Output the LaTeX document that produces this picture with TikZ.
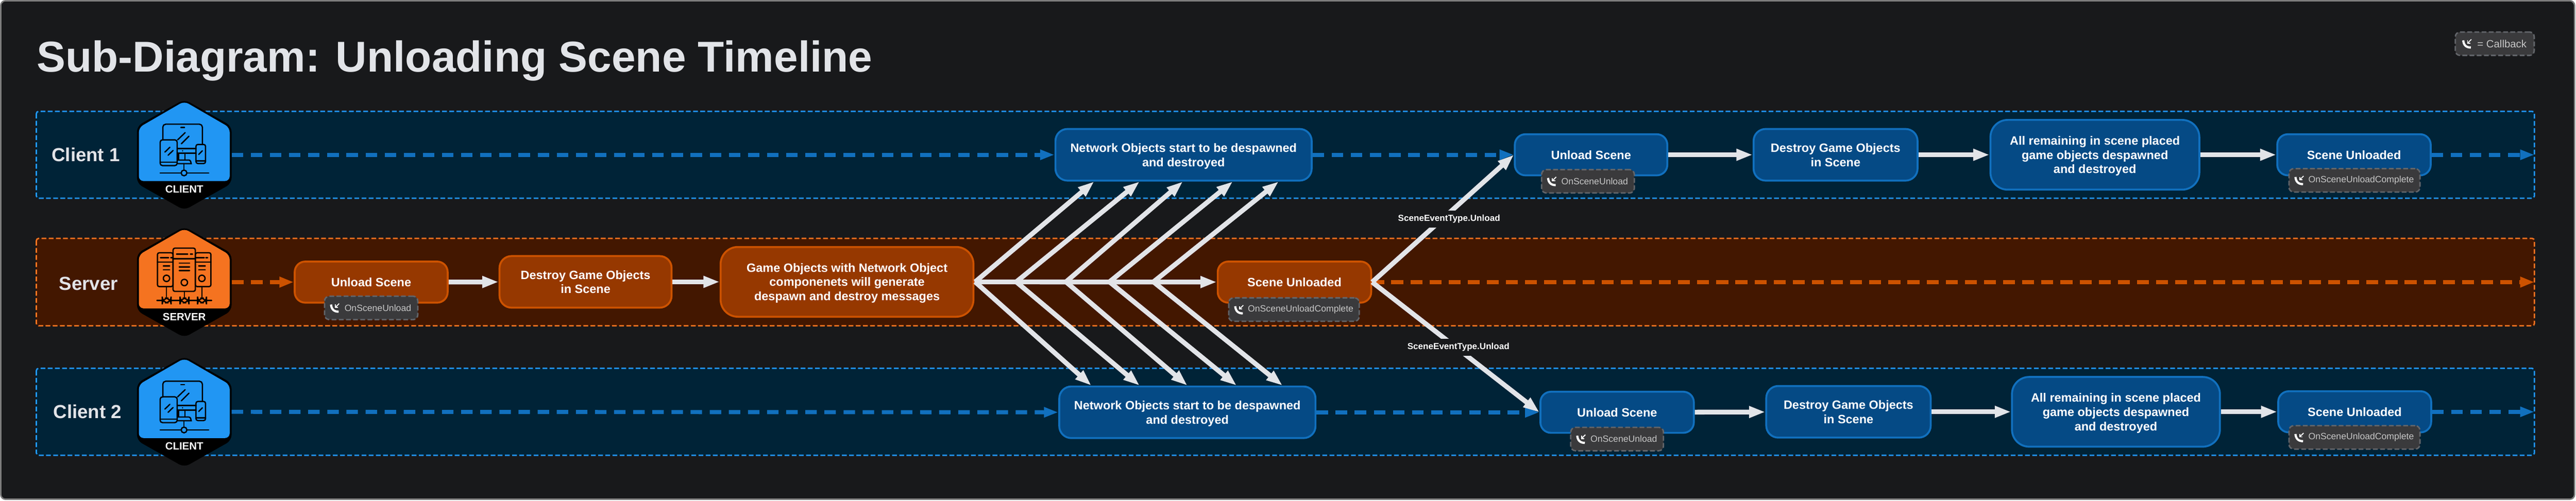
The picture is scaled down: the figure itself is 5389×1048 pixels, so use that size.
\documentclass[tikz,border=0pt]{standalone}
\usepackage{fontspec}
\setmainfont{Liberation Sans}
\usetikzlibrary{arrows.meta}
\definecolor{framebg}{HTML}{18191B}
\definecolor{framegray}{HTML}{7C7C7C}
\definecolor{lanedarkblue}{HTML}{002337}
\definecolor{lanedarkorange}{HTML}{431700}
\definecolor{clientblue}{HTML}{2196F3}
\definecolor{serverorange}{HTML}{F57320}
\definecolor{blockblue}{HTML}{054A85}
\definecolor{edgeblue}{HTML}{1170BE}
\definecolor{blockorange}{HTML}{963800}
\definecolor{edgeorange}{HTML}{CC5200}
\definecolor{flowwhite}{HTML}{E2E4E8}
\definecolor{cbfill}{HTML}{3A3A3C}
\definecolor{cbedge}{HTML}{62656A}
\tikzset{
  lane/.style={line width=3pt, dash pattern=on 10pt off 5pt, rounded corners=5pt},
  lanetext/.style={font=\bfseries\fontsize{39.5}{40}\selectfont, text=flowwhite, inner sep=0pt},
  hexspot/.style={inner sep=0pt, minimum width=198pt, minimum height=224pt},
  hextext/.style={font=\bfseries\fontsize{22}{22}\selectfont, text=white, inner sep=0pt},
  block/.style={line width=4pt, inner sep=0pt, align=center, text=white, text depth=0pt, font=\bfseries\fontsize{25.3}{30}\selectfont},
  blockS/.style={block, minimum height=86pt, rounded corners=22pt},
  blockM/.style={block, minimum height=108pt, rounded corners=25pt},
  blockL/.style={block, minimum height=146pt, rounded corners=36pt},
  onblue/.style={fill=blockblue, draw=edgeblue},
  onorange/.style={fill=blockorange, draw=edgeorange},
  cbbox/.style={fill=cbfill, draw=cbedge, line width=3pt, dash pattern=on 10pt off 5pt, rounded corners=10pt,
    minimum height=49pt, inner sep=0pt, text=white!78!black, font=\fontsize{19}{19}\selectfont},
  flow/.style={-{Triangle[length=34pt,width=23pt]}, line width=10pt, draw=flowwhite},
  dashblue/.style={-{Triangle[length=30pt,width=20pt]}, line width=8.5pt, dash pattern=on 24pt off 16pt, draw=edgeblue},
  dashorange/.style={-{Triangle[length=30pt,width=21pt]}, line width=9pt, dash pattern=on 25pt off 15pt, draw=edgeorange},
  eventtext/.style={fill=framebg, text=white, inner sep=0pt, minimum height=35pt, font=\bfseries\fontsize{18.4}{19}\selectfont},
  phoneicon/.pic={
    \draw[white, line width=4.5pt] (-8,-7) .. controls (-7,3) and (-2,8) .. (8,8);
    \draw[white, line width=2pt] (9,-9) -- (1,-1);
    \draw[white, line width=2pt] (1,-7) -- (1,-1) -- (7,-1);
  },
  clienticon/.pic={
    \begin{scope}[x=.3333pt, y=-.3333pt, shift={(-406.5,-372)}, line width=2.7pt, line cap=round]
      \draw[rounded corners=6pt] (272,280) -- (272,180) -- (520,180) -- (520,305);
      \draw (385,201) -- (408,201);
      \draw (365,278) -- (412,233);
      \draw (388,303) -- (436,255);
      \draw (365,333) -- (480,333);
      \draw (365,362) -- (480,362);
      \fill (396,347) circle (4);
      \draw (370,362) -- (370,405);
      \draw (410,362) -- (410,405);
      \draw (365,405) -- (435,405) .. controls (445,405) and (450,418) .. (450,428) -- (365,428);
      \draw (405,428) -- (405,467);
      \draw (405,486) circle (18);
      \draw (255,486) -- (387,486);
      \draw (423,486) -- (560,486);
      \draw[rounded corners=5pt] (255,278) rectangle (362,440);
      \draw (255,418) -- (362,418);
      \draw (285,355) -- (316,325);
      \draw (305,375) -- (336,345);
      \draw[rounded corners=4pt] (480,307) rectangle (540,427);
      \draw (480,410) -- (540,410);
      \draw (497,370) -- (520,347);
    \end{scope}
  },
  servericon/.pic={
    \begin{scope}[x=.3333pt, y=-.3333pt, shift={(-406.5,-391.5)}, line width=2.7pt, line cap=round]
      \draw[rounded corners=4pt] (238,207) rectangle (336,420);
      \draw[rounded corners=4pt] (476,207) rectangle (574,420);
      \draw[rounded corners=4pt] (336,178) rectangle (476,450);
      \draw (238,265) -- (336,265);
      \draw (476,265) -- (574,265);
      \draw (336,245) -- (476,245);
      \draw (358,215) -- (428,215);
      \draw (445,215) -- (458,215);
      \draw (257,238) -- (308,238);
      \draw (322,238) -- (333,238);
      \draw (480,238) -- (532,238);
      \draw (542,238) -- (553,238);
      \foreach \ly in {273,296,319} \draw (375,\ly) -- (440,\ly);
      \foreach \ly in {290,314} {
        \draw (275,\ly) -- (315,\ly);
        \draw (497,\ly) -- (538,\ly);
      }
      \draw (295,368) circle (20);
      \draw (407,394) circle (20);
      \draw (517,368) circle (20);
      \draw (295,420) -- (295,492);
      \draw (407,450) -- (407,492);
      \draw (517,420) -- (517,492);
      \draw (235,507) -- (578,507);
      \foreach \px in {296,408,518}
        \draw[fill=serverorange, rounded corners=13pt] (\px-28,492) rectangle (\px+28,522);
    \end{scope}
  }
}
% black hexagon with its coloured face on top
\newcommand{\hexface}[2]{
  \fill[black, rounded corners=12pt] ([shift={(0,-116)}]#1.center) -- ([shift={(99,-60)}]#1.center) -- ([shift={(99,60)}]#1.center)
    -- ([shift={(0,116)}]#1.center) -- ([shift={(-99,60)}]#1.center) -- ([shift={(-99,-60)}]#1.center) -- cycle;
  \fill[#2, rounded corners=10pt] ([shift={(0,55)}]#1.center) -- ([shift={(-95,55)}]#1.center) -- ([shift={(-95,-57)}]#1.center)
    -- ([shift={(0,-112)}]#1.center) -- ([shift={(95,-57)}]#1.center) -- ([shift={(95,55)}]#1.center) -- cycle;
}
\begin{document}
\begin{tikzpicture}[x=1pt, y=-1pt]
  \useasboundingbox (0,0) rectangle (5389,1048);
  \draw[fill=framebg, draw=framegray, line width=3pt, rounded corners=10pt] (1.5,1.5) rectangle (5386,1045);
  \node[anchor=base west, inner sep=0pt, text=flowwhite, font=\bfseries\fontsize{90.3}{91}\selectfont] (title) at (77,150) {Sub-Diagram: Unloading Scene Timeline};

  % lanes
  \draw[lane, fill=lanedarkblue, draw=clientblue] (76,233) rectangle (5302,415);
  \draw[lane, fill=lanedarkorange, draw=serverorange] (76,499) rectangle (5302,682);
  \draw[lane, fill=lanedarkblue, draw=clientblue] (76,771) rectangle (5302,953);
  \node[lanetext] (nameCa) at (179.5,324) {Client 1};
  \node[lanetext] (nameS) at (185,594) {Server};
  \node[lanetext] (nameCb) at (183,862) {Client 2};

  % hexagons
  \node[hexspot] (hexCa) at (385.5,324) {};
  \node[hexspot] (hexS) at (385.5,590.5) {};
  \node[hexspot] (hexCb) at (385.5,862) {};
  \hexface{hexCa}{clientblue}
  \hexface{hexS}{serverorange}
  \hexface{hexCb}{clientblue}
  \pic at (hexCa) {clienticon};
  \pic at (hexS) {servericon};
  \pic at (hexCb) {clienticon};
  \node[hextext] (tagCa) at ([yshift=-72pt]hexCa.center) {CLIENT};
  \node[hextext] (tagS) at ([yshift=-72.5pt]hexS.center) {SERVER};
  \node[hextext] (tagCb) at ([yshift=-72pt]hexCb.center) {CLIENT};

  % server lane
  \node[blockS, onorange, minimum width=320pt] (unloadS) at (776.5,590.5) {Unload Scene};
  \node[blockM, onorange, minimum width=360pt] (destroyS) at (1225,590) {Destroy Game Objects\\in Scene};
  \node[blockL, onorange, minimum width=529pt] (gameS) at (1772,590) {Game Objects with Network Object\\componenets will generate\\despawn and destroy messages};
  \node[blockS, onorange, minimum width=321pt] (sceneS) at (2708,590.5) {Scene Unloaded};

  % client 1 lane
  \node[blockM, onblue, minimum width=536pt] (netCa) at (2476,324) {Network Objects start to be despawned\\and destroyed};
  \node[blockS, onblue, minimum width=319pt] (unloadCa) at (3328.5,324) {Unload Scene};
  \node[blockM, onblue, minimum width=343pt] (destroyCa) at (3840,324) {Destroy Game Objects\\in Scene};
  \node[blockL, onblue, minimum width=437pt] (allCa) at (4382.5,324) {All remaining in scene placed\\game objects despawned\\and destroyed};
  \node[blockS, onblue, minimum width=321pt] (sceneCa) at (4924.5,324) {Scene Unloaded};

  % client 2 lane
  \node[blockM, onblue, minimum width=536pt] (netCb) at (2484,863) {Network Objects start to be despawned\\and destroyed};
  \node[blockS, onblue, minimum width=321pt] (unloadCb) at (3383,863) {Unload Scene};
  \node[blockM, onblue, minimum width=344pt] (destroyCb) at (3867,862) {Destroy Game Objects\\in Scene};
  \node[blockL, onblue, minimum width=435pt] (allCb) at (4426.5,862) {All remaining in scene placed\\game objects despawned\\and destroyed};
  \node[blockS, onblue, minimum width=320pt] (sceneCb) at (4926,862) {Scene Unloaded};

  % callbacks
  \foreach \cbname/\cbpos/\cbw/\cbtext in {
    cbA/{776.5,644.5}/195/OnSceneUnload,
    cbB/{2707,648}/273/OnSceneUnloadComplete,
    cbC/{3322,379.5}/194/OnSceneUnload,
    cbD/{4925.5,377.5}/274/OnSceneUnloadComplete,
    cbE/{3383,919}/194/OnSceneUnload,
    cbF/{4925.5,915.5}/274/OnSceneUnloadComplete}{
    \node[cbbox, minimum width=\cbw pt] (\cbname) at (\cbpos) {\hspace{28pt}\cbtext};
    \pic at ([xshift=23pt]\cbname.west) {phoneicon};
  }
  \node[cbbox, minimum width=165pt, font=\fontsize{22}{22}\selectfont] (cbG) at (5219,91.5) {\hspace{30pt}= Callback};
  \pic at ([xshift=26pt]cbG.west) {phoneicon};

  % dashed timelines
  \coordinate (endCa) at (5302,324);
  \coordinate (endS) at (5302,590.5);
  \coordinate (endCb) at (5302,862);
  \draw[dashblue] (hexCa.east) -- (netCa.west);
  \draw[dashblue] (netCa.east) -- (unloadCa.west);
  \draw[dashblue] (sceneCa.east) -- (endCa);
  \draw[dashorange] (hexS.east) -- (unloadS.west);
  \draw[dashorange] (sceneS.east) -- (endS);
  \draw[dashblue] (hexCb.east) -- (netCb.west);
  \draw[dashblue] (netCb.east) -- (unloadCb.west);
  \draw[dashblue] (sceneCb.east) -- (endCb);

  % solid flow
  \draw[flow] (unloadS) -- (destroyS);
  \draw[flow] (destroyS) -- (gameS);
  \draw[flow] (gameS) -- (sceneS);
  \draw[flow] (unloadCa) -- (destroyCa);
  \draw[flow] (destroyCa) -- (allCa);
  \draw[flow] (allCa) -- (sceneCa);
  \draw[flow] (unloadCb) -- (destroyCb);
  \draw[flow] (destroyCb) -- (allCb);
  \draw[flow] (allCb) -- (sceneCb);

  % fan out of the server spine
  \foreach \n/\fx/\tx/\bx in {A/2040/2289/2283, B/2126/2384/2384, C/2230/2474.5/2484, D/2321/2579/2587, E/2413/2675/2683}{
    \coordinate (fan\n) at (\fx,590);
    \coordinate (top\n) at (\tx,380);
    \coordinate (bot\n) at (\bx,807);
    \draw[flow] (fan\n) -- (top\n);
    \draw[flow] (fan\n) -- (bot\n);
  }

  % scene event messages
  \draw[flow] (sceneS.east) -- (unloadCa.west);
  \draw[flow] (sceneS.east) -- (unloadCb.west);
  \node[eventtext] (eventCa) at (3031.5,458.5) {SceneEventType.Unload};
  \node[eventtext] (eventCb) at (3051,727) {SceneEventType.Unload};
\end{tikzpicture}
\end{document}
